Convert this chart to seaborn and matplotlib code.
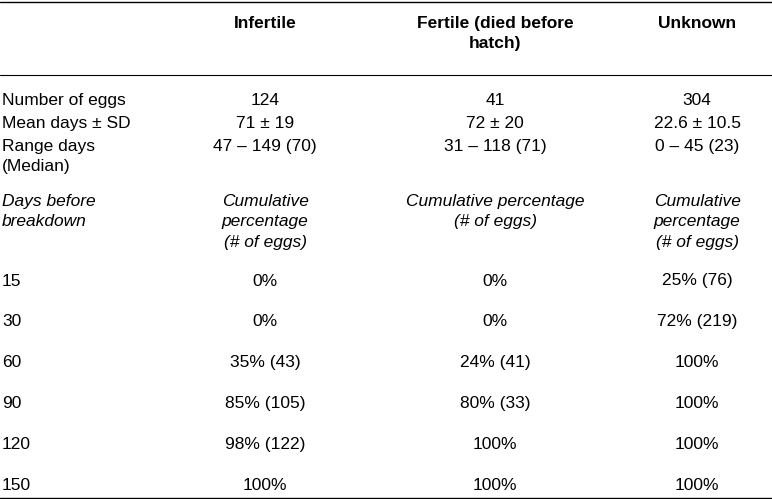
import matplotlib.pyplot as plt
import seaborn as sns

sns.set_theme(style="white", font="Liberation Sans",
              rc={"text.color": "black"})

# Dados da tabela
col_headers = ["Infertile", "Fertile (died before\nhatch)", "Unknown"]
row_labels = ["Number of eggs", "Mean days ± SD", "Range days\n(Median)"]
infertile = ["124", "71 ± 19", "47 – 149 (70)"]
fertile = ["41", "72 ± 20", "31 – 118 (71)"]
unknown = ["304", "22.6 ± 10.5", "0 – 45 (23)"]

sub_label = "Days before\nbreakdown"
sub_headers = ["Cumulative\npercentage\n(# of eggs)", "Cumulative percentage\n(# of eggs)",
               "Cumulative\npercentage\n(# of eggs)"]
days = ["15", "30", "60", "90", "120", "150"]
cum_infertile = ["0%", "0%", "35% (43)", "85% (105)", "98% (122)", "100%"]
cum_fertile = ["0%", "0%", "24% (41)", "80% (33)", "100%", "100%"]
cum_unknown = ["25% (76)", "72% (219)", "100%", "100%", "100%", "100%"]

W, H = 772, 499
fig = plt.figure(figsize=(W / 100, H / 100), dpi=100)
ax = fig.add_axes([0, 0, 1, 1])
ax.set_xlim(0, W)
ax.set_ylim(H, 0)
ax.axis("off")

fs = 12.5
ls = 1.45
xs = [265, 495, 697]
x_lab = 2

ax.axhline(1.5, color="black", lw=1)
ax.axhline(75, color="black", lw=0.8)
ax.axhline(497.5, color="black", lw=1)

for x, h in zip(xs, col_headers):
    ax.text(x, 16, h, ha="center", va="top", fontsize=fs, fontweight="bold", linespacing=ls)

row_y = [101, 124, 147]
for y, lab, a, b, c in zip(row_y, row_labels, infertile, fertile, unknown):
    ax.text(x_lab, y - 8, lab, ha="left", va="top", fontsize=fs, linespacing=ls)
    for x, v in zip(xs, [a, b, c]):
        ax.text(x, y - 8, v, ha="center", va="top", fontsize=fs)

ax.text(x_lab, 194, sub_label, ha="left", va="top", fontsize=fs, style="italic", linespacing=ls)
for x, h in zip(xs, sub_headers):
    ax.text(x, 194, h, ha="center", va="top", fontsize=fs, style="italic", linespacing=ls)

for i, d in enumerate(days):
    y = 281 + i * 40.8
    ax.text(x_lab, y, d, ha="left", va="center", fontsize=fs)
    for x, v in zip(xs, [cum_infertile[i], cum_fertile[i], cum_unknown[i]]):
        ax.text(x, y, v, ha="center", va="center", fontsize=fs)

fig.savefig("out.png", dpi=100)
